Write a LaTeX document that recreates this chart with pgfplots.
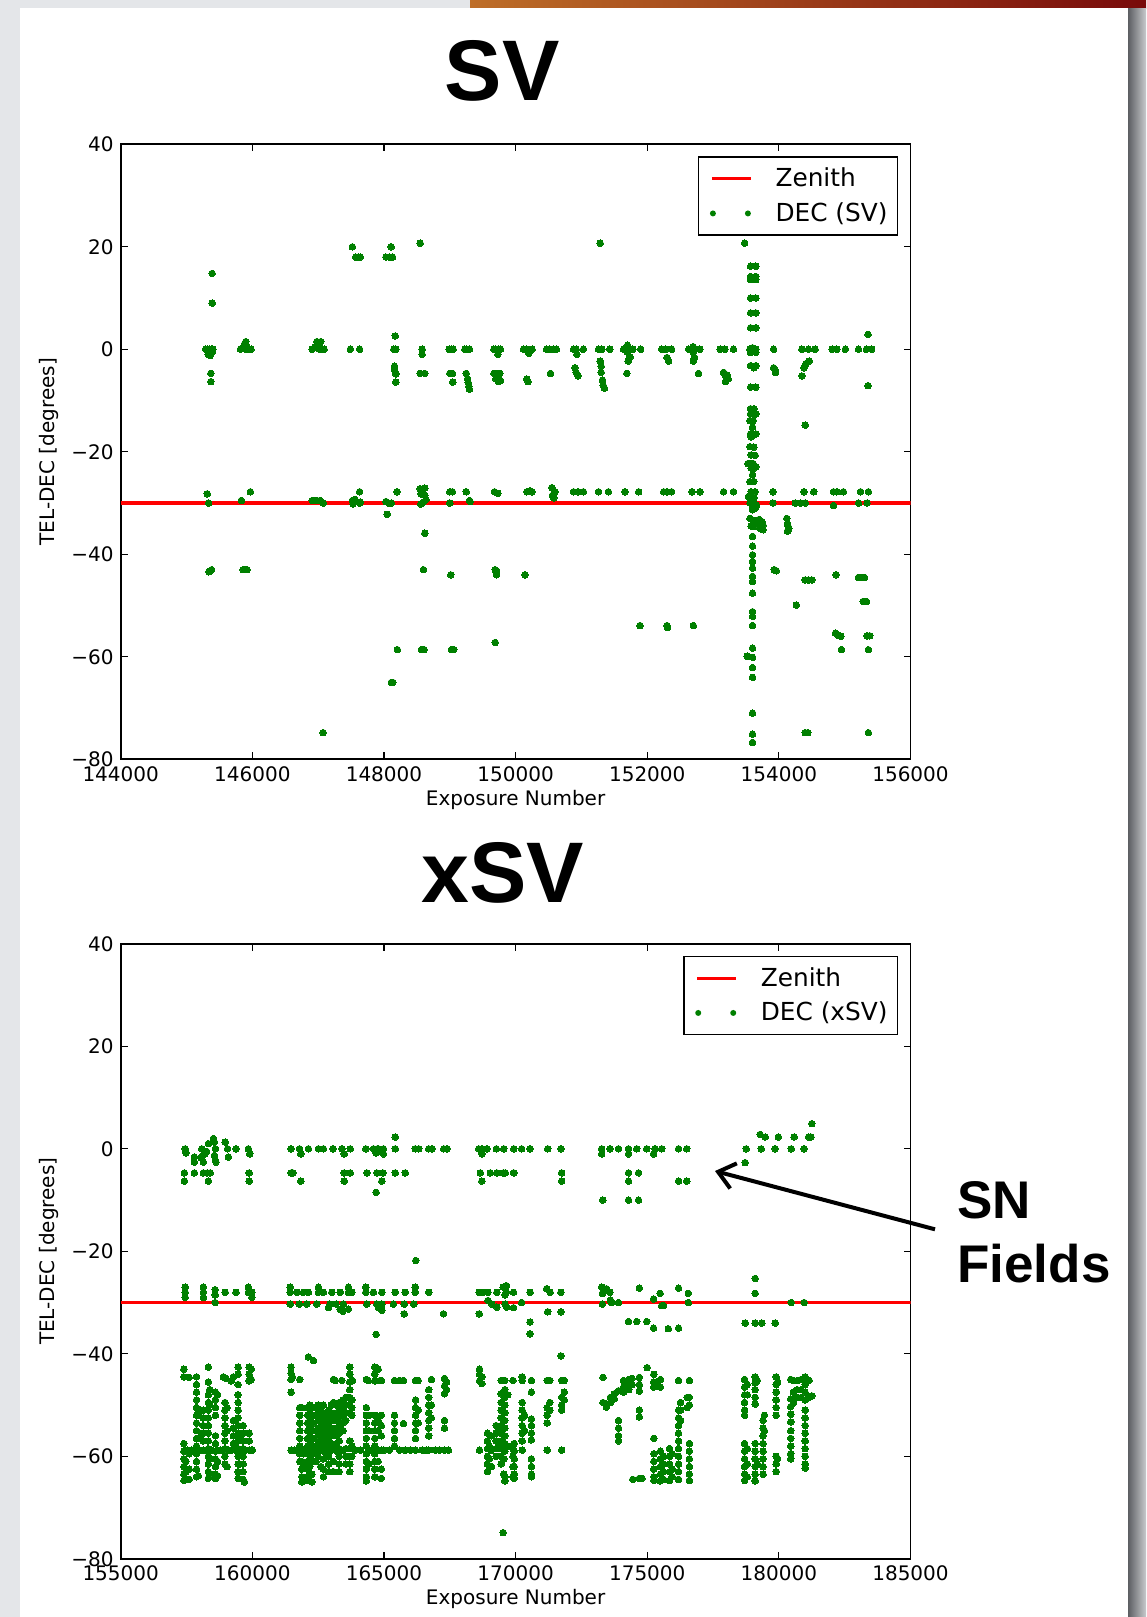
\documentclass[border=0pt]{standalone}
\usepackage{fontspec}
\setmainfont{DejaVu Sans}
\newfontfamily\headfont{Liberation Sans}
\usepackage{pgfplots}
\pgfplotsset{compat=1.18}
\usetikzlibrary{arrows.meta}

\definecolor{mplgreen}{RGB}{0,128,0}
\definecolor{mplred}{RGB}{255,0,0}
\definecolor{slidegrey}{RGB}{228,230,233}

\pgfplotsset{
  decplot/.style={
    scale only axis, width=394.9pt, height=307.5pt, anchor=south west,
    ymin=-80, ymax=40,
    ytick={-80,-60,-40,-20,0,20,40},
    yticklabels={−80,−60,−40,−20,0,20,40},
    scaled x ticks=false,
    tick align=inside, major tick length=3.5pt,
    tick style={black, line width=0.6pt},
    axis line style={black, line width=0.9pt},
    ticklabel style={font=\fontsize{10}{12}\selectfont},
    label style={font=\fontsize{10}{12}\selectfont},
    xlabel={Exposure Number}, ylabel={TEL-DEC [degrees]},
    every axis x label/.style={at={(axis description cs:0.5,-0.075)}, anchor=base},
    every axis y label/.style={at={(axis description cs:-0.0902,0.5)}, anchor=center, rotate=90},
    legend cell align=left,
    legend style={at={(0.9846,0.9805)}, anchor=north east, draw=black,
      line width=0.8pt, fill=white, inner xsep=3pt, inner ysep=3.3pt,
      font=\fontsize{12.4}{15}\selectfont, column sep=9.5pt, row sep=2.5pt},
  },
  zenith/.style={mplred, line width=1.9pt,
    legend image code/.code={\path[draw=none, fill=none] (0pt,0pt) -- (23.15pt,0pt);
      \draw[mplred, line width=1.6pt] (3.65pt,0pt) -- (23.15pt,0pt);}},
  decpts/.style={only marks, mark=*, mark size=1.65pt,
    mark options={draw=mplgreen, fill=mplgreen, line width=0pt},
    legend image code/.code={\path[draw=none, fill=none] (0pt,0pt) -- (23.15pt,0pt);
      \fill[mplgreen, draw=none] (4.15pt,0pt) circle (1.5pt) (21.65pt,0pt) circle (1.5pt);}},
}

\begin{document}
\begin{tikzpicture}
\useasboundingbox (0pt,0pt) rectangle (573pt,-808.5pt);
% slide background, the photo strip on top and the shaded right border
\fill[slidegrey] (0pt,0pt) rectangle (573pt,-808.5pt);
\shade[left color={rgb,255:red,190;green,110;blue,40}, right color={rgb,255:red,120;green,10;blue,10}] (235pt,0pt) rectangle (573pt,-4pt);
\shade[left color={rgb,255:red,92;green,94;blue,98}, right color={rgb,255:red,200;green,202;blue,205}] (564pt,-4pt) rectangle (573pt,-808.5pt);
\fill[white] (9.85pt,-3.75pt) rectangle (564pt,-808.5pt);

% headings
\node[anchor=base, font=\headfont\bfseries\fontsize{43}{50}\selectfont] at (251pt,-50pt) {SV};
\node[anchor=base, font=\headfont\bfseries\fontsize{43}{50}\selectfont] at (251.5pt,-451.3pt) {xSV};

% ---------------- SV period ----------------
\begin{axis}[decplot, at={(60.35pt,-379.65pt)},
  xmin=144000, xmax=156000,
  xtick={144000,146000,148000,150000,152000,154000,156000},
  xticklabels={144000,146000,148000,150000,152000,154000,156000}]
\addplot[zenith] coordinates {(144000,-30) (156000,-30)};
\addlegendentry{Zenith}
\addplot[decpts] coordinates {
(145290,0)(145320,0)(145350,0)(145380,0)(145400,0)(145330,-1)(145360,-1.2)(145390,-0.6)
(145390,14.8)(145390,9)(145370,-4.7)(145370,-6.3)
(145315,-28.2)(145335,-30)(145340,-43.4)(145360,-43.2)(145380,-43)
(145820,0)(145850,0.3)(145880,1)(145900,1.5)(145920,0.5)(145950,0)(145980,0)(145900,0)
(145833,-29.5)(145970,-27.8)(145860,-43)(145890,-43)(145920,-43)
(146910,0)(146950,0.5)(146980,1.5)(147010,1)(147040,1.5)(147060,0)(147090,0)(147020,0)
(146910,-29.5)(146940,-29.5)(146980,-29.5)(147030,-29.5)(147076,-30)(147076,-74.8)
(147520,20)(147570,18)(147610,18)(147640,18)(147490,0)(147630,0)
(147520,-29.5)(147530,-30.2)(147560,-29.3)(147630,-30)(147640,-29.8)(147630,-27.8)
(148110,20)(148030,18)(148080,18)(148130,18)(148172,2.6)(148150,0)(148180,0)
(148160,-3.3)(148160,-4)(148180,-4.8)(148180,-6.4)
(148030,-29.7)(148070,-30)(148110,-30)(148200,-27.8)(148050,-32.2)(148203,-58.6)(148112,-65)(148135,-65)
(148550,20.7)(148580,0)(148580,-1)(148550,-4.7)(148620,-4.7)
(148550,-27.2)(148560,-28.2)(148620,-28.5)(148600,-29.8)(148560,-30.2)(148640,-29.3)(148620,-27.1)
(148620,-35.9)(148600,-43)(148570,-58.6)(148610,-58.6)
(148990,0)(149020,0)(149050,0)(149000,-4.7)(149040,-4.7)(149045,-6.4)
(149000,-27.8)(149040,-27.8)(149000,-30)(149015,-44)(149025,-58.6)(149060,-58.6)
(149230,0)(149260,0)(149300,0)(149250,-4.7)(149270,-5.8)(149280,-6.5)(149290,-7.2)(149300,-7.8)
(149250,-27.8)(149300,-29.5)(149310,-29.7)
(149670,0)(149700,0)(149740,0)(149770,0)(149730,-1)(149670,-4.7)(149710,-4.7)(149760,-4.7)
(149700,-5.8)(149740,-6.3)(149770,-6.1)(149680,-27.8)(149730,-28.1)
(149690,-43)(149710,-43.2)(149710,-44)(149690,-57.2)
(150120,0)(150160,0)(150200,-0.8)(150250,0)(150170,-5.8)(150190,-6.3)
(150170,-27.8)(150220,-27.6)(150250,-27.8)(150143,-44)
(150470,0)(150520,0)(150570,0)(150620,0)(150530,-4.7)
(150550,-27)(150560,-28.5)(150580,-29)(150600,-27.8)
(150880,0)(150920,0)(150930,-1)(151030,0)(150900,-3.6)(150920,-4.5)(150950,-5.2)
(150880,-27.8)(150950,-27.8)(151030,-27.8)
(151285,20.7)(151260,0)(151310,0)(151430,0)(151285,-2.3)(151300,-3.3)(151300,-4.5)
(151320,-6)(151330,-7)(151350,-7.6)(151260,-27.8)(151410,-27.8)
(151640,0)(151690,-0.5)(151740,-1.5)(151710,-2.3)(151700,0.8)(151780,0)(151900,0)
(151690,-4.7)(151660,-27.8)(151870,-27.8)
(152220,0)(152280,0)(152370,0)(152300,-1.6)(152325,-2.3)
(152250,-27.8)(152300,-27.8)(152370,-27.8)(151890,-53.9)(152300,-53.9)(152310,-54.3)
(152630,0)(152700,0.5)(152720,0)(152800,0)(152700,-0.6)(152720,-1.6)(152700,-2.3)(152780,-4.7)
(152680,-27.8)(152800,-27.8)(152700,-53.9)
(153110,0)(153180,0)(153310,0)(153160,-4.5)(153190,-5.2)(153230,-5.8)(153190,-6.3)(153210,-5)
(153160,-27.8)(153310,-27.8)
(153480,20.7)
(153570,16.2)(153650,16.2)(153570,14.2)(153650,14.2)(153570,13.6)(153650,13.6)
(153570,10)(153650,10)(153570,7.1)(153650,7.1)(153570,4.2)(153650,4.2)
(153560,0)(153600,0.3)(153650,0)(153570,-0.6)(153650,-0.6)
(153570,-3.2)(153620,-3.6)(153650,-3.2)(153570,-7.4)(153650,-7.4)
(153570,-11.6)(153620,-11.6)(153570,-12.6)(153650,-12.6)(153610,-13.9)(153560,-13.9)
(153600,-15.2)(153570,-16.5)(153650,-16.5)(153580,-17.1)(153560,-19)(153620,-19.1)
(153580,-20.6)(153640,-20.7)(153530,-22.3)(153570,-22.3)(153610,-22.3)(153650,-22.9)
(153580,-23.2)(153620,-23.2)(153600,-24.5)(153560,-25.8)(153620,-25.8)
(153580,-27.8)(153640,-27.8)(153540,-28.7)(153580,-29.3)(153620,-29.8)(153600,-30.5)
(153640,-31)(153560,-30)(153620,-29)(153660,-30.4)(153600,-31.3)
(153560,-33)(153600,-33.3)(153640,-33.5)(153680,-33.8)(153720,-34)(153700,-33.2)
(153740,-33.6)(153760,-34.3)(153720,-35)(153760,-35.2)(153620,-34.6)(153580,-34.5)
(153600,-36.5)(153600,-38.4)(153600,-40.1)(153600,-41.4)(153600,-42.7)(153600,-44.3)
(153600,-45.3)(153600,-47.6)(153600,-51.2)(153600,-52.1)(153600,-53.9)(153600,-58.3)
(153520,-59.9)(153600,-60.1)(153600,-62.1)(153600,-64)(153600,-71)(153600,-75.1)(153600,-76.7)
(153920,0)(153920,-3.6)(153950,-4.5)(153940,-4)(153910,-27.8)(153910,-30)(153930,-43)(153960,-43.2)
(154120,-33)(154130,-34)(154150,-35)(154130,-35.5)(154140,-34.5)
(154350,0)(154450,0)(154550,0)(154380,-3.6)(154410,-2.8)(154460,-2.3)(154350,-5.2)
(154400,-14.8)(154380,-27.8)(154530,-27.8)(154250,-30)(154330,-30)(154400,-30)
(154400,-45)(154450,-45)(154500,-45)(154265,-49.9)(154400,-74.8)(154440,-74.8)
(154810,0)(154880,0)(155010,0)(154830,-27.8)(154880,-27.8)(154980,-27.8)(154830,-30.5)
(154870,-44)(154860,-55.4)(154900,-55.8)(154940,-56)(154950,-58.6)
(155210,0)(155330,0)(155410,0)(155355,2.9)(155355,-7.1)(155240,-27.8)(155360,-27.8)
(155210,-30)(155340,-30)(155210,-44.5)(155260,-44.5)(155300,-44.5)(155280,-49.2)(155330,-49.2)
(155340,-55.9)(155380,-55.9)(155360,-58.6)(155360,-74.8)
};
\addlegendentry{DEC (SV)}
\end{axis}

% ---------------- xSV period ----------------
\begin{axis}[decplot, at={(60.35pt,-779.4pt)},
  xmin=155000, xmax=185000,
  xtick={155000,160000,165000,170000,175000,180000,185000},
  xticklabels={155000,160000,165000,170000,175000,180000,185000}]
\addplot[zenith] coordinates {(155000,-30) (185000,-30)};
\addlegendentry{Zenith}
\addplot[decpts] coordinates {
(157450,0)(157480,-0.8)(157800,-1.6)(157800,-2.6)(158080,0)(158110,-1.3)(158140,-2.6)(158260,-0.5)
(158330,1)(158520,2)(158560,1.3)(158600,0)(158560,-1.3)(158600,-2.3)(158970,1.3)(159060,0)
(159090,-1.6)(159380,0)(159850,0)(159900,-1)(158620,-2.6)(158200,-1)(158050,-1.8)
(157420,-4.7)(157800,-4.7)(158140,-4.7)(158290,-4.7)(158400,-4.7)(159880,-4.7)
(157420,-6.3)(158330,-6.3)(159880,-6.3)
(157450,-27)(157450,-28)(157450,-29)(158140,-27)(158140,-28)(158140,-29)
(158590,-27.5)(158590,-28.5)(158590,-30)(158970,-28)(159380,-28)
(159850,-27)(159850,-28)(159980,-28)(159980,-29)
(161470,0)(161790,0)(162130,0)(162510,0)(162700,0)(163060,0)(163400,0)(163720,0)(164310,0)
(164600,0)(164790,0)(164980,0)(165430,0)(166190,0)(166320,0)(166700,0)(166830,0)(167270,0)
(167400,0)(161840,-1)(163490,-1)(164700,-0.8)(164980,-1)(165430,2.3)(164850,-0.5)(164750,0)
(161470,-4.7)(161540,-4.7)(163490,-4.7)(163720,-4.7)(164350,-4.7)(164730,-4.7)(164960,-4.7)
(165430,-4.7)(165810,-4.7)(161840,-6.3)(163490,-6.3)(164920,-6.3)(164700,-8.5)
(161440,-28)(161690,-28)(161940,-28)(162130,-28)(162510,-28)(162700,-28)(163020,-28)
(163340,-28)(163650,-28)(163780,-28)(164310,-28)(164600,-28)(164920,-28)(165430,-28)
(165810,-28)(166190,-28)(166700,-28)
(161440,-27)(162510,-27)(163650,-27)(164310,-27)(166190,-27)
(161440,-30.3)(161780,-30.3)(162070,-30.3)(162450,-30.3)(162950,-30.3)(163180,-30.3)
(163460,-30.3)(164350,-30.3)(164730,-30.3)(164920,-30.3)(165360,-30.3)(165770,-30.3)(166130,-30.3)
(162890,-31)(163330,-31.3)(163440,-31.7)(163650,-31.3)(164790,-31)(164920,-31.5)
(165770,-32.2)(164700,-36.2)(166210,-21.8)(167260,-32.2)
(168600,0)(168720,0)(168910,0)(169270,0)(169550,0)(169930,0)(168720,-1)
(168660,-4.7)(169040,-4.7)(169290,-4.7)(169610,-4.7)(169930,-4.7)(168720,-6.3)
(168620,-28)(168750,-28)(168950,-28)(169290,-28)(169650,-28)(168950,-29.6)(169100,-30.3)
(169290,-30.9)(169600,-30.3)(168620,-32.2)(169650,-26.7)
(170230,0)(170550,0)(171220,0)(171720,0)(173270,0)(173590,0)(173910,0)(174290,0)(174600,0)
(174980,0)(175300,0)(175550,0)(176190,0)(176500,0)(173270,-1)(174290,-1)(175240,-1)
(169530,-4.7)(169920,-4.7)(171750,-4.7)(174290,-4.7)(174670,-4.7)
(171750,-6.3)(174290,-6.3)(176190,-6.3)(176500,-6.3)(173310,-10)(174290,-10)(174670,-10)
(178720,-2.7)(178760,0)(179330,0)(179860,0)(180470,0)(180960,0)(179290,2.8)(179480,2.3)
(179980,2.3)(180580,2.3)(181130,2.3)(181220,2.3)(181250,4.9)
(169530,-27)(169600,-28.5)(169660,-30.9)(169920,-28)(169920,-31)(170230,-30)(170550,-28)
(170550,-33.8)(170550,-36.1)(171180,-27.3)(171310,-28)(171220,-31.8)(171720,-28)(171720,-31.8)
(171720,-40.4)
(173270,-27)(173300,-28.2)(173450,-27.3)(173580,-28)(173600,-29.5)(173300,-30.3)(173650,-30)
(173910,-30)(174290,-33.7)(174600,-33.7)(174980,-33.7)(174700,-27.2)(175240,-29.3)(175240,-35)
(175490,-28.2)(175620,-30.6)(175550,-30.6)(175800,-35.1)(176190,-35)(176190,-27.2)
(176560,-28.2)(176560,-30)
(178720,-34)(179100,-25.3)(179100,-28.2)(179100,-34)(179350,-34)(179860,-34)(180470,-30)(180960,-30)
(169530,-74.9)
(157400,-43)(157400,-44.5)(157400,-57.5)(157400,-59)(157400,-60.5)(157400,-62)(157400,-63.5)(157400,-64.7)
(157470,-58.8)(157470,-61)(157470,-63)
(157600,-59.5)(157600,-62.5)(157600,-64.5)(157600,-44.6)
(157880,-44.5)(157880,-46)(157880,-47.5)(157880,-49)(157880,-50.5)(157880,-52)(157880,-53.5)
(157880,-55)(157880,-56.5)(157880,-58)(157880,-59.5)(157880,-61)(157880,-62.5)(157880,-64)
(157950,-51.5)(157950,-58.8)(157950,-63.8)
(158130,-51)(158130,-52.5)(158130,-54)(158130,-55.5)(158130,-57)(158130,-58.8)(158050,-51)(158050,-56)
(158330,-42.6)(158330,-45.5)(158330,-48)(158330,-49.5)(158330,-51)(158330,-52.5)(158330,-54)
(158330,-55.5)(158330,-57)(158330,-58.5)(158330,-60)(158330,-61.5)(158330,-63)(158330,-64.3)
(158380,-47)(158380,-50)(158380,-60.5)(158380,-63.5)
(158600,-47.5)(158600,-49)(158600,-50.5)(158600,-52)(158600,-56)(158600,-57.5)(158600,-59)
(158600,-60.5)(158600,-62)(158600,-63.5)(158600,-64.3)
(158680,-48)(158680,-58.8)(158680,-61)(158680,-63.8)
(158900,-44.5)(159000,-44.8)
(158960,-49.5)(158960,-51)(158960,-52.5)(158960,-54)(158960,-55.5)(158960,-57)(158960,-58.5)
(158960,-60)(158960,-61.5)
(159040,-50.5)(159040,-55)(159040,-58.8)(159040,-62)
(159280,-44.5)(159200,-45.3)(159280,-53)(159280,-54.5)(159280,-56)(159280,-57.5)
(159460,-42.6)(159460,-44)(159460,-46)(159460,-48)(159460,-49.5)(159460,-51)(159460,-52.5)
(159460,-54)(159460,-55.5)(159460,-57)(159460,-58.5)(159460,-60)(159460,-61.5)(159460,-63)(159460,-64.3)
(159520,-56)(159520,-58.8)(159520,-61.5)
(159650,-54)(159650,-55.5)(159650,-57)(159650,-58.5)(159650,-60)(159650,-61.5)(159650,-63)
(159650,-64.5)(159700,-65)
(159880,-42.6)(159880,-44)(159880,-45.3)(159880,-55.5)(159880,-57)(159880,-58.8)
(159960,-43)(159960,-45)(159960,-58.8)
(157550,-58.8)(157700,-58.8)(158000,-58.8)(158250,-58.8)(158450,-58.8)(158800,-58.8)
(159100,-58.8)(159200,-58.8)(159350,-58.8)(159600,-58.8)(159750,-58.8)(160000,-58.8)
(161470,-42.6)(161470,-43.8)(161470,-45)(161470,-47.5)(161470,-58.8)(161520,-44.5)
(161800,-45)(161800,-50.5)(161800,-52)(161800,-53.5)(161800,-55)(161800,-56.5)(161800,-58)
(161800,-59.5)(161800,-61)
(161880,-50.5)(161880,-58.8)(161880,-61)(161880,-62.5)(161880,-64)(161880,-65)
(161940,-59.5)(161940,-62)(161940,-64.5)
(162100,-50.5)(162100,-52)(162100,-53.5)(162100,-55)(162100,-56.5)(162100,-58)(162100,-59.5)
(162100,-61)(162100,-62.5)(162100,-64)(162100,-64.7)
(162180,-50)(162180,-51.5)(162180,-53)(162180,-54.5)(162180,-56)(162180,-57.5)(162180,-59)
(162180,-60.5)(162180,-62)(162180,-63.5)
(162130,-40.6)(162320,-41.3)
(162320,-50.5)(162320,-52)(162320,-53.5)(162320,-55)(162320,-56.5)(162320,-58)(162320,-59.5)(162320,-61)
(162260,-63.5)(162260,-65)
(162500,-50)(162500,-51.5)(162500,-53)(162500,-54.5)(162500,-56)(162500,-57.5)(162500,-58.8)(162500,-60)
(162420,-52)(162420,-55)(162420,-58)(162420,-61)
(162600,-51)(162600,-52.5)(162600,-54)(162600,-55.5)(162600,-57)(162600,-58.5)(162600,-62)
(162700,-50)(162700,-51.5)(162700,-53)(162700,-54.5)(162700,-56)(162700,-57.5)(162700,-59)
(162700,-60.5)(162700,-62.5)(162700,-64)
(162800,-52)(162800,-53.5)(162800,-55)(162800,-56.5)(162800,-58)(162800,-59.5)
(162900,-51)(162900,-52.5)(162900,-54)(162900,-55.5)(162900,-57)(162900,-58.5)(162900,-60)
(162900,-61.5)(162900,-63)
(163000,-50)(163000,-51.5)(163000,-53)(163000,-54.5)(163000,-56)(163000,-57.5)(163000,-58.8)
(163080,-45)(163080,-49.5)(163080,-52)(163080,-55)(163080,-58)(163080,-61)(163080,-63)
(163200,-50)(163200,-51.5)(163200,-53)(163200,-54.5)(163200,-56)(163200,-57.5)(163200,-59)
(163300,-49.5)(163300,-51)(163300,-52.5)(163300,-54)(163300,-55.5)(163300,-57)(163300,-58.5)
(163300,-60)(163300,-61.5)(163300,-63)
(163450,-49)(163450,-50.5)(163450,-52)(163450,-53.5)(163450,-55)(163450,-58.8)
(163550,-48.5)(163550,-50)(163550,-51.5)(163550,-53)(163550,-58.5)(163550,-60)(163550,-61.5)
(163700,-42.6)(163700,-44)(163700,-45.5)(163700,-47)(163700,-48.5)(163700,-50)(163700,-51.5)
(163700,-57)(163700,-58.5)(163700,-60)(163700,-61.5)(163700,-63)
(163780,-49)(163780,-50.5)(163780,-52)(163780,-58)(163780,-60)
(164330,-45)(164330,-50.5)(164330,-52)(164330,-53.5)(164330,-55)(164330,-56.5)(164330,-58)
(164330,-59.5)(164330,-61)(164330,-62.5)(164330,-64)(164330,-64.8)
(164420,-52)(164420,-55)(164420,-58.8)(164420,-61.5)
(164650,-42.6)(164650,-44)(164650,-45.3)(164650,-52)(164650,-53.5)(164650,-55)(164650,-56.5)
(164650,-58)(164650,-59.5)(164650,-61)(164650,-62.5)(164650,-64)
(164780,-43)(164780,-53)(164780,-55)(164780,-58.8)(164780,-61)
(164900,-45.2)(164900,-52)(164900,-54)(164900,-56)(164900,-58.8)(164900,-62.5)(164900,-64.3)
(165400,-45.2)(165400,-52)(165400,-53.5)(165400,-55)(165400,-56.5)(165400,-58)
(165740,-45.2)(165740,-53.6)
(166200,-45.2)(166200,-49)(166200,-50.5)(166200,-52)(166200,-53.5)(166200,-55)(166200,-56.5)(166200,-58.8)
(166300,-45.2)(166300,-51)(166300,-53.5)
(166700,-47)(166700,-48.5)(166700,-50)(166700,-51.5)(166700,-53)(166700,-54.5)(166700,-56)(166700,-58.8)
(166800,-45)(166800,-50)(166800,-52.5)
(167300,-44.8)(167300,-46.3)(167300,-47.8)(167300,-53)(167300,-54.5)(167300,-58.8)(167380,-45.5)(167380,-47)
(161600,-58.8)(161700,-58.8)(162000,-58.8)(163150,-58.8)(163900,-58.8)(164100,-58.8)(164550,-58.8)
(165000,-58.8)(165200,-58.8)(165600,-58.8)(165800,-58.8)(166000,-58.8)(166450,-58.8)(166600,-58.8)
(166950,-58.8)(167100,-58.8)(167450,-58.8)
(163150,-45.2)(163400,-45.2)(163800,-45.2)(164400,-45.2)(164850,-45.2)(165600,-45.2)
(168630,-43)(168630,-44)(168630,-45.3)(168630,-58.8)(168720,-44.5)(168720,-45.8)
(168930,-55.5)(168930,-57)(168930,-58.5)(168930,-60)(168930,-61.5)(168930,-63)
(169000,-58)(169000,-60.5)(169080,-56)(169080,-58.8)(169080,-62)
(169260,-54)(169260,-55.5)(169260,-57)(169260,-58.5)(169260,-60)(169350,-55)(169350,-58)
(169590,-45.2)(169590,-47)(169590,-48.5)(169590,-50)(169590,-51.5)(169590,-53)(169590,-54.5)
(169590,-56)(169590,-57.5)(169590,-59)(169590,-64)(169590,-64.8)
(169700,-48)(169700,-58)
(169900,-45.2)(169900,-58.5)(169900,-60)(169900,-62)(169900,-64)
(169450,-45.2)(169450,-47.8)(169450,-49.5)(169450,-51)(169450,-52.5)(169450,-54)(169450,-55.5)
(169450,-57)(169450,-58.5)(169450,-60)(169450,-61.5)
(169550,-58)(169550,-60.5)(169550,-63.5)
(169950,-57.5)(169950,-59)(169950,-60.5)(169950,-62)(169950,-63.5)(169950,-64.3)
(170250,-44.5)(170250,-45.2)(170250,-49.5)(170250,-51)(170250,-52.5)(170250,-54)(170250,-55.5)
(170250,-57)(170250,-58.8)(170340,-52)(170340,-55)
(170600,-45.2)(170600,-47.5)(170600,-52.7)(170600,-54)(170600,-55.5)(170600,-56.8)(170600,-60.5)
(170600,-62)(170600,-63.5)(170600,-64)
(171200,-45.2)(171200,-50.5)(171200,-52)(171200,-53.5)(171200,-58.8)(171300,-45.2)(171300,-49.5)(171300,-51)
(171750,-45.2)(171750,-48.5)(171750,-50)(171750,-51)(171750,-58.8)(171850,-45.2)(171850,-47.5)(171850,-49)
(173320,-44.6)(173320,-49.5)(173450,-49.8)(173450,-50.4)(173600,-48.5)(173600,-49.5)
(173750,-47.8)(173750,-48.8)(173910,-47.2)(173910,-53)(173910,-54.5)(173910,-56)(173910,-57)
(174100,-45.2)(174100,-46.5)(174100,-47.5)(174300,-45)(174300,-46)(174300,-47)(174420,-44.8)(174420,-46)
(174700,-44.6)(174700,-46)(174700,-47.3)(174700,-51)(174700,-52.3)
(174450,-64.5)(174800,-64.3)(174700,-64.3)(175000,-42.7)
(175250,-44)(175250,-45.5)(175250,-46.5)(175250,-56.5)(175250,-59.5)(175250,-61)(175250,-62.5)
(175250,-64)(175250,-64.7)(175350,-45.5)(175350,-46.3)
(175500,-45)(175500,-46.5)(175500,-59)(175500,-60.5)(175500,-62)(175500,-63.5)(175500,-64.8)
(175620,-60)(175620,-61.5)(175620,-63)(175620,-64.5)
(175850,-58.5)(175850,-60)(175850,-61.5)(175850,-63)(175850,-64.7)
(175950,-59.5)(175950,-62.5)(175950,-64)
(176190,-45.2)(176190,-51)(176190,-52.5)(176190,-54)(176190,-55.5)(176190,-57)(176190,-58.5)
(176190,-60)(176190,-61.5)(176190,-63)(176190,-64.5)
(176270,-49.5)(176270,-51)(176270,-53)
(176600,-45.2)(176600,-48.5)(176600,-50)(176600,-57.5)(176600,-59)(176600,-60.5)(176600,-62)
(176600,-63.5)(176600,-64.7)(176520,-48.5)(176520,-50.5)
(178700,-45)(178700,-46.5)(178700,-48)(178700,-49.5)(178700,-51)(178700,-52)(178700,-57.5)
(178700,-59)(178700,-60.5)(178700,-62)(178700,-63.5)(178700,-64.7)
(178800,-46)(178800,-48)(178800,-58.5)(178800,-61.5)(178800,-64)
(179100,-44.5)(179100,-45.7)(179100,-47)(179100,-48.5)(179100,-49.8)(179100,-57.5)(179100,-59)
(179100,-60.5)(179100,-62)(179100,-63.5)(179100,-64.8)(179180,-45.2)(179180,-61.5)
(179400,-53)(179400,-54.5)(179400,-56)(179400,-57.5)(179400,-59)(179400,-60.5)(179400,-62)
(179400,-63.5)(179450,-52)(179450,-55)
(179900,-44.5)(179900,-46)(179900,-47.5)(179900,-49)(179900,-50.5)(179900,-52)(179900,-60)
(179900,-61.5)(179900,-63)(179950,-45.5)(179950,-60.5)
(180450,-45)(180450,-48.8)(180450,-50.3)(180450,-51.8)(180450,-53.3)(180450,-55)(180450,-56.5)
(180450,-58)(180450,-59.5)(180450,-60.5)
(180550,-45.2)(180550,-47.5)(180550,-49.5)(180700,-45.2)(180700,-47)(180700,-48.5)
(180850,-45)(180850,-47)(180850,-48.5)
(181000,-44.5)(181000,-46)(181000,-47.5)(181000,-49)(181000,-51)(181000,-52.5)(181000,-54)
(181000,-55.5)(181000,-57)(181000,-58.5)(181000,-60)(181000,-61.5)(181000,-62.3)
(181150,-45.2)(181150,-48.5)(181250,-48.2)
};
\addlegendentry{DEC (xSV)}
\end{axis}

% annotation for the supernova fields
\draw[line width=2pt, -{Straight Barb[length=8pt, width=13pt]}] (467.5pt,-614.65pt) -- (357.5pt,-585.5pt);
\node[anchor=base west, inner sep=0pt, font=\headfont\bfseries\fontsize{26.5}{32}\selectfont] at (478.5pt,-609.2pt) {SN};
\node[anchor=base west, inner sep=0pt, font=\headfont\bfseries\fontsize{26.5}{32}\selectfont] at (478.5pt,-641pt) {Fields};
\end{tikzpicture}
\end{document}
